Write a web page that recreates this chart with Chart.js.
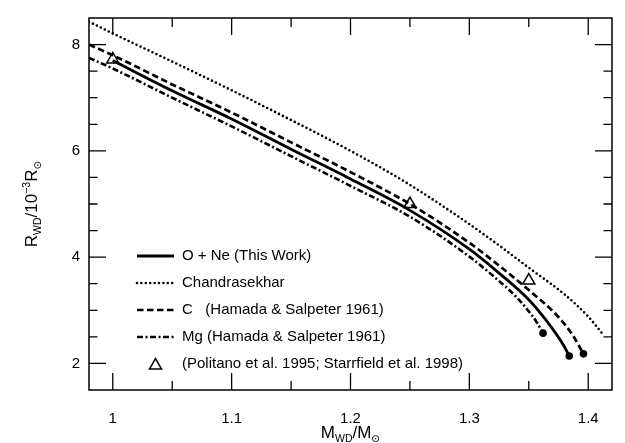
<!DOCTYPE html>
<html>
<head>
<meta charset="utf-8">
<script src="https://cdn.jsdelivr.net/npm/chart.js@4.4.1/dist/chart.umd.min.js"></script>
<style>
  body { margin: 0; background: #fff; }
  #wrap { width: 625px; height: 443px; }
</style>
</head>
<body>
<div id="wrap"><canvas id="radiusChart" width="625" height="443"></canvas></div>
<script>
// white dwarf mass (M_sun) against radius (10^-3 R_sun)
let oneMass = [1.0, 1.05, 1.1, 1.15, 1.2, 1.25, 1.3, 1.325, 1.35, 1.365, 1.379, 1.384];
let oneRadius = [7.70, 7.13, 6.60, 6.03, 5.47, 4.88, 4.15, 3.70, 3.20, 2.80, 2.35, 2.14];

let chMass = [0.98, 1.0, 1.05, 1.1, 1.15, 1.2, 1.25, 1.3, 1.325, 1.35, 1.38, 1.40, 1.412];
let chRadius = [8.43, 8.21, 7.68, 7.14, 6.58, 6.00, 5.36, 4.62, 4.22, 3.80, 3.30, 2.88, 2.56];

let cMass = [0.98, 1.0, 1.05, 1.1, 1.15, 1.2, 1.25, 1.3, 1.325, 1.35, 1.3755, 1.387, 1.396];
let cRadius = [8.00, 7.80, 7.25, 6.72, 6.16, 5.60, 5.00, 4.27, 3.84, 3.38, 2.86, 2.53, 2.18];

let mgMass = [0.98, 1.0, 1.05, 1.1, 1.15, 1.2, 1.25, 1.3, 1.325, 1.34, 1.35, 1.356, 1.362];
let mgRadius = [7.75, 7.55, 7.00, 6.46, 5.90, 5.34, 4.76, 4.01, 3.55, 3.24, 2.98, 2.80, 2.57];

let novaMass = [1.0, 1.25, 1.35];
let novaRadius = [7.72, 5.00, 3.56];

let xTickValues = [1, 1.1, 1.2, 1.3, 1.4];
let xMinorValues = [1.05, 1.15, 1.25, 1.35];
let yTickValues = [2, 4, 6, 8];
let yMinorValues = [2.5, 3, 3.5, 4.5, 5, 5.5, 6.5, 7, 7.5];

const FONT = '"Liberation Sans", Arial, Helvetica, "DejaVu Sans", sans-serif';

function toPoints(xs, ys) {
    return xs.map((x, i) => ({ x: x, y: ys[i] }));
}

// filled dot only on the last point of a curve
function endDot(ctx) {
    return ctx.dataIndex === ctx.dataset.data.length - 1 ? 3.8 : 0;
}

// frame and inward ticks on all four sides
const frameTicks = {
    id: 'frameTicks',
    afterDraw(chart) {
        const { ctx, chartArea: a } = chart;
        const x = chart.scales.x, y = chart.scales.y;
        ctx.save();
        ctx.strokeStyle = '#000';
        ctx.lineWidth = 1.5;
        ctx.strokeRect(a.left, a.top, a.right - a.left, a.bottom - a.top);
        ctx.lineWidth = 1.3;
        ctx.beginPath();
        const xt = (vals, len) => vals.forEach(v => {
            const px = x.getPixelForValue(v);
            ctx.moveTo(px, a.bottom); ctx.lineTo(px, a.bottom - len);
            ctx.moveTo(px, a.top); ctx.lineTo(px, a.top + len);
        });
        const yt = (vals, len) => vals.forEach(v => {
            const py = y.getPixelForValue(v);
            ctx.moveTo(a.left, py); ctx.lineTo(a.left + len, py);
            ctx.moveTo(a.right, py); ctx.lineTo(a.right - len, py);
        });
        xt(xTickValues, 17);
        xt(xMinorValues, 9);
        yt(yTickValues, 17);
        yt(yMinorValues, 8.5);
        ctx.stroke();
        ctx.restore();
    }
};

// text with sub/superscript pieces, centred on (0, 0) of the current transform
function drawRich(ctx, parts) {
    let total = 0;
    parts.forEach(p => {
        ctx.font = p.size + 'px ' + FONT;
        p.w = ctx.measureText(p.t).width;
        total += p.w;
    });
    let cx = -total / 2;
    parts.forEach(p => {
        ctx.font = p.size + 'px ' + FONT;
        ctx.fillText(p.t, cx, p.dy || 0);
        cx += p.w;
    });
}

const axisTitles = {
    id: 'axisTitles',
    afterDraw(chart) {
        const { ctx, chartArea: a } = chart;
        ctx.save();
        ctx.fillStyle = '#000';
        ctx.textBaseline = 'alphabetic';
        ctx.textAlign = 'left';
        ctx.translate((a.left + a.right) / 2, 438);
        drawRich(ctx, [
            { t: 'M', size: 17 },
            { t: 'WD', size: 10.5, dy: 3.5 },
            { t: '/M', size: 17 },
            { t: '\u2299', size: 10.5, dy: 3.5 }
        ]);
        ctx.restore();

        ctx.save();
        ctx.fillStyle = '#000';
        ctx.textBaseline = 'alphabetic';
        ctx.textAlign = 'left';
        ctx.translate(37, (a.top + a.bottom) / 2);
        ctx.rotate(-Math.PI / 2);
        drawRich(ctx, [
            { t: 'R', size: 17 },
            { t: 'WD', size: 10.5, dy: 3.5 },
            { t: '/10', size: 17 },
            { t: '\u22123', size: 10.5, dy: -7.5 },
            { t: 'R', size: 17 },
            { t: '\u2299', size: 10.5, dy: 3.5 }
        ]);
        ctx.restore();
    }
};

// legend inside the lower left of the plot
const insetLegend = {
    id: 'insetLegend',
    afterDraw(chart) {
        const ctx = chart.ctx;
        const x0 = 137, x1 = 174, tx = 182;
        let rowY = 256;
        chart.data.datasets.forEach(ds => {
            ctx.save();
            ctx.strokeStyle = '#000';
            if (ds.showLine) {
                ctx.lineWidth = ds.borderWidth;
                ctx.setLineDash(ds.borderDash || []);
                ctx.lineCap = ds.borderCapStyle || 'butt';
                ctx.beginPath();
                ctx.moveTo(x0, rowY);
                ctx.lineTo(x1, rowY);
                ctx.stroke();
            } else {
                const r = ds.pointRadius, cx = (x0 + x1) / 2, cy = rowY + 1.5;
                ctx.lineWidth = ds.pointBorderWidth;
                ctx.beginPath();
                ctx.moveTo(cx, cy - r);
                ctx.lineTo(cx + r * Math.sin(2 * Math.PI / 3), cy + r / 2);
                ctx.lineTo(cx - r * Math.sin(2 * Math.PI / 3), cy + r / 2);
                ctx.closePath();
                ctx.stroke();
            }
            ctx.fillStyle = '#000';
            ctx.font = '15px ' + FONT;
            ctx.textBaseline = 'middle';
            ctx.fillText(ds.label, tx, rowY);
            ctx.restore();
            rowY += 27;
        });
    }
};

const ctx = document.getElementById('radiusChart').getContext('2d');
const radiusChart = new Chart(ctx, {
    type: 'scatter',
    data: {
        datasets: [
            {
                label: 'O + Ne (This Work)',
                data: toPoints(oneMass, oneRadius),
                showLine: true,
                borderColor: '#000',
                borderWidth: 2.8,
                pointRadius: endDot,
                pointBackgroundColor: '#000',
                pointBorderWidth: 0,
                cubicInterpolationMode: 'monotone',
            },
            {
                label: 'Chandrasekhar',
                data: toPoints(chMass, chRadius),
                showLine: true,
                borderColor: '#000',
                borderWidth: 2.6,
                borderDash: [0, 4.4],
                borderCapStyle: 'round',
                pointRadius: 0,
                cubicInterpolationMode: 'monotone',
            },
            {
                label: 'C   (Hamada & Salpeter 1961)',
                data: toPoints(cMass, cRadius),
                showLine: true,
                borderColor: '#000',
                borderWidth: 2.7,
                borderDash: [6.5, 3.5],
                pointRadius: endDot,
                pointBackgroundColor: '#000',
                pointBorderWidth: 0,
                cubicInterpolationMode: 'monotone',
            },
            {
                label: 'Mg (Hamada & Salpeter 1961)',
                data: toPoints(mgMass, mgRadius),
                showLine: true,
                borderColor: '#000',
                borderWidth: 2.6,
                borderDash: [6, 2.5, 2, 2.5],
                pointRadius: endDot,
                pointBackgroundColor: '#000',
                pointBorderWidth: 0,
                cubicInterpolationMode: 'monotone',
            },
            {
                label: '(Politano et al. 1995; Starrfield et al. 1998)',
                data: toPoints(novaMass, novaRadius),
                showLine: false,
                pointStyle: 'triangle',
                pointRadius: 7,
                pointBorderWidth: 1.5,
                pointBorderColor: '#000',
                pointBackgroundColor: 'rgba(0,0,0,0)',
            },
        ]
    },
    options: {
        responsive: false,
        animation: false,
        events: [],
        layout: { padding: { top: 11, right: 13, left: 0, bottom: 0 } },
        plugins: {
            legend: { display: false },
            tooltip: { enabled: false }
        },
        scales: {
            x: {
                type: 'linear',
                min: 0.98,
                max: 1.42,
                grid: { display: false, drawTicks: false },
                border: { display: false },
                afterBuildTicks: s => { s.ticks = xTickValues.map(v => ({ value: v })); },
                afterFit: s => { s.height = 53; },
                ticks: {
                    padding: 20,
                    color: '#000',
                    font: { family: FONT, size: 15 },
                    callback: v => String(v)
                }
            },
            y: {
                type: 'linear',
                min: 1.5,
                max: 8.5,
                grid: { display: false, drawTicks: false },
                border: { display: false },
                afterBuildTicks: s => { s.ticks = yTickValues.map(v => ({ value: v })); },
                afterFit: s => { s.width = 89; },
                ticks: {
                    padding: 9,
                    color: '#000',
                    font: { family: FONT, size: 15 },
                    callback: v => String(v)
                }
            }
        }
    },
    plugins: [frameTicks, axisTitles, insetLegend]
});
</script>
</body>
</html>
